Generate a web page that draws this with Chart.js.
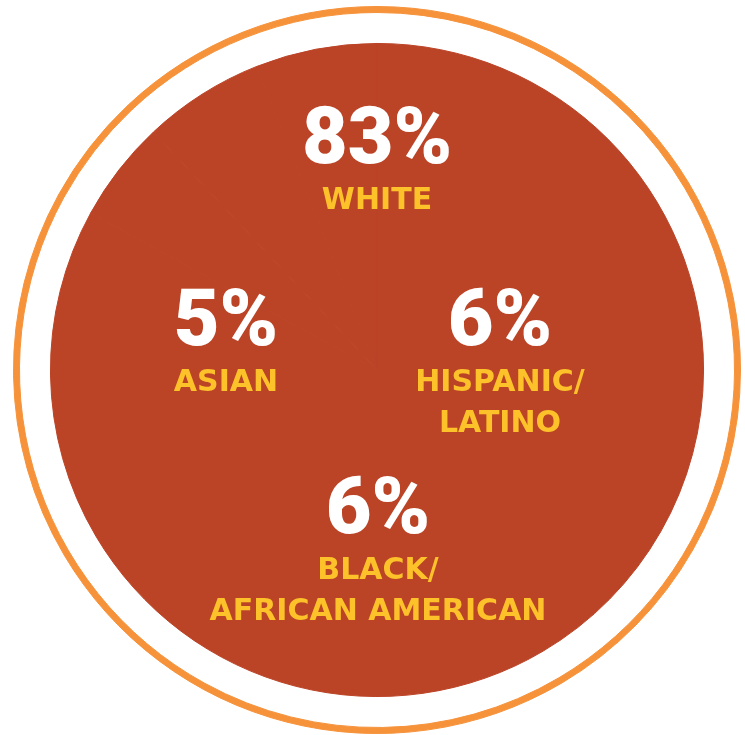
<!DOCTYPE html>
<html lang="en">
<head>
<meta charset="utf-8">
<title>Race / ethnicity</title>
<style>
  html, body { margin: 0; padding: 0; background: #ffffff; }
  #wrap { width: 745px; height: 735px; }
</style>
</head>
<body>
<div id="wrap"><canvas id="myChart"></canvas></div>

<script src="https://cdn.jsdelivr.net/npm/chart.js"></script>
<script>
// data
const categories = ['WHITE', 'ASIAN', 'HISPANIC/\nLATINO', 'BLACK/\nAFRICAN AMERICAN'];
const shares = [83, 5, 6, 6];

// where each label block sits, offset from the pie centre (px)
const labelSpots = [
  { dx: 0,    dy: -207 },
  { dx: -151, dy: -25 },
  { dx: 123,  dy: -25 },
  { dx: 1,    dy: 163 }
];

const fill = '#bb4326';
const ring = '#f6923a';
const yellow = '#fdc12a';

const labelPlugin = {
  id: 'centerLabels',
  afterDatasetsDraw(chart) {
    const arc = chart.getDatasetMeta(2).data[0];
    if (!arc) return;
    const cx = arc.x, cy = arc.y;
    const c = chart.ctx;
    c.save();
    c.textAlign = 'center';
    c.textBaseline = 'alphabetic';
    shares.forEach((v, i) => {
      const x = cx + labelSpots[i].dx;
      const y = cy + labelSpots[i].dy;
      c.fillStyle = '#ffffff';
      c.font = '900 79px Roboto';
      c.fillText(v + '%', x, y);
      c.fillStyle = yellow;
      c.font = 'bold 30px "DejaVu Sans"';
      categories[i].split('\n').forEach((line, j) => {
        c.fillText(line, x, y + 46 + j * 41);
      });
    });
    c.restore();
  }
};

const ctx = document.getElementById('myChart');
new Chart(ctx, {
  type: 'doughnut',
  data: {
    labels: categories,
    datasets: [
      { // thin orange outline
        data: shares,
        backgroundColor: ring,
        borderColor: ring,
        borderWidth: 1,
        weight: 6
      },
      { // white gap
        data: shares,
        backgroundColor: 'rgba(0,0,0,0)',
        borderColor: 'rgba(0,0,0,0)',
        borderWidth: 0,
        weight: 31
      },
      { // the filled disk
        data: shares,
        backgroundColor: fill,
        borderColor: fill,
        borderWidth: 1,
        weight: 327
      }
    ]
  },
  options: {
    responsive: true,
    maintainAspectRatio: false,
    animation: false,
    cutout: 0,
    layout: { padding: { left: 13, right: 4, top: 6, bottom: 1 } },
    plugins: {
      legend: { display: false },
      tooltip: { enabled: false }
    },
    events: []
  },
  plugins: [labelPlugin]
});
</script>
</body>
</html>
